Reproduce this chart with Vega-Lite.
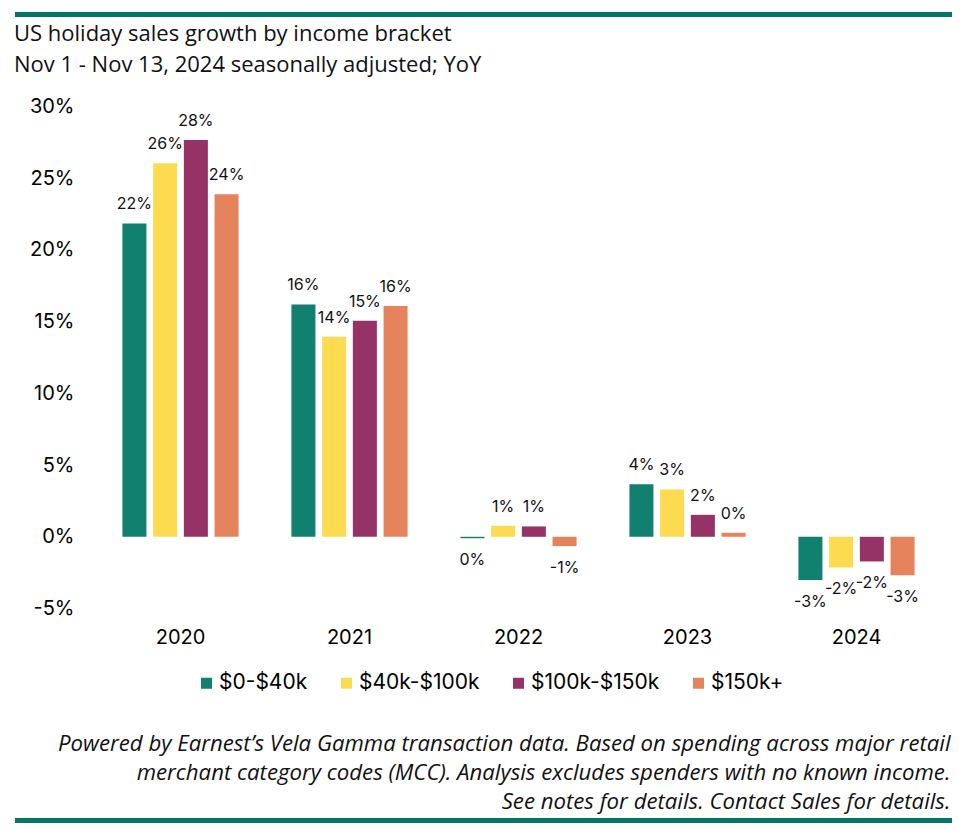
{
  "$schema": "https://vega.github.io/schema/vega-lite/v6.json",
  "width": 845,
  "height": 502,
  "autosize": {"type": "none"},
  "padding": {"left": 96, "top": 106.5, "right": 29, "bottom": 229.5},
  "background": "white",
  "config": {
    "view": {"stroke": null},
    "locale": {"number": {"decimal": ".", "thousands": ",", "grouping": [3], "currency": ["$", ""], "minus": "-"}}
  },
  "title": {
    "text": "US holiday sales growth by income bracket",
    "subtitle": "Nov 1 - Nov 13, 2024 seasonally adjusted; YoY",
    "anchor": "start",
    "frame": "group",
    "dx": -82,
    "font": "Open Sans",
    "fontSize": 22,
    "fontWeight": "normal",
    "color": "#111111",
    "subtitleFont": "Open Sans",
    "subtitleFontSize": 22,
    "subtitleColor": "#111111",
    "subtitlePadding": 9,
    "offset": -65
  },
  "data": {
    "values": [
      {"year": "2020", "bracket": "$0-$40k", "value": 0.2185},
      {"year": "2020", "bracket": "$40k-$100k", "value": 0.2604},
      {"year": "2020", "bracket": "$100k-$150k", "value": 0.2766},
      {"year": "2020", "bracket": "$150k+", "value": 0.2388},
      {"year": "2021", "bracket": "$0-$40k", "value": 0.162},
      {"year": "2021", "bracket": "$40k-$100k", "value": 0.1395},
      {"year": "2021", "bracket": "$100k-$150k", "value": 0.1506},
      {"year": "2021", "bracket": "$150k+", "value": 0.1609},
      {"year": "2022", "bracket": "$0-$40k", "value": -0.001},
      {"year": "2022", "bracket": "$40k-$100k", "value": 0.0077},
      {"year": "2022", "bracket": "$100k-$150k", "value": 0.0072},
      {"year": "2022", "bracket": "$150k+", "value": -0.0065},
      {"year": "2023", "bracket": "$0-$40k", "value": 0.0367},
      {"year": "2023", "bracket": "$40k-$100k", "value": 0.033},
      {"year": "2023", "bracket": "$100k-$150k", "value": 0.0153},
      {"year": "2023", "bracket": "$150k+", "value": 0.0028},
      {"year": "2024", "bracket": "$0-$40k", "value": -0.0302},
      {"year": "2024", "bracket": "$40k-$100k", "value": -0.0214},
      {"year": "2024", "bracket": "$100k-$150k", "value": -0.0172},
      {"year": "2024", "bracket": "$150k+", "value": -0.0269}
    ]
  },
  "encoding": {
    "x": {
      "field": "year",
      "type": "nominal",
      "scale": {"paddingInner": 0, "paddingOuter": 0},
      "axis": {
        "orient": "bottom",
        "domain": false,
        "ticks": false,
        "labelAngle": 0,
        "labelFont": "Inter",
        "labelFontSize": 20,
        "labelColor": "#000000",
        "labelPadding": 19,
        "title": [
          "Powered by Earnest’s Vela Gamma transaction data. Based on spending across major retail",
          "merchant category codes (MCC). Analysis excludes spenders with no known income.",
          "See notes for details. Contact Sales for details."
        ],
        "titleFont": "Open Sans",
        "titleFontStyle": "italic",
        "titleFontWeight": "normal",
        "titleFontSize": 22.2,
        "titleColor": "#111111",
        "titleLineHeight": 29,
        "titleAnchor": "end",
        "titleAlign": "right",
        "titleX": 854,
        "titlePadding": 85
      }
    },
    "xOffset": {
      "field": "bracket",
      "type": "nominal",
      "sort": ["$0-$40k", "$40k-$100k", "$100k-$150k", "$150k+"],
      "scale": {"paddingInner": 0.218, "paddingOuter": 0.86}
    },
    "y": {
      "field": "value",
      "type": "quantitative",
      "scale": {"domain": [-0.05, 0.3], "nice": false, "zero": false},
      "axis": {
        "format": ".0%",
        "values": [-0.05, 0, 0.05, 0.1, 0.15, 0.2, 0.25, 0.3],
        "domain": false,
        "ticks": false,
        "grid": false,
        "labelFont": "Inter",
        "labelFontSize": 20,
        "labelColor": "#000000",
        "labelPadding": 22,
        "title": null
      }
    }
  },
  "layer": [
    {
      "data": {"values": [{"z": 0}]},
      "mark": {"type": "rule", "color": "#d9d9d9", "strokeWidth": 2},
      "encoding": {"x": null, "xOffset": null, "y": {"datum": 0, "type": "quantitative"}}
    },
    {
      "mark": {"type": "bar"},
      "encoding": {
        "color": {
          "field": "bracket",
          "type": "nominal",
          "scale": {
            "domain": ["$0-$40k", "$40k-$100k", "$100k-$150k", "$150k+"],
            "range": ["#11806F", "#FDDB50", "#953266", "#E4835C"]
          },
          "legend": {
            "orient": "none",
            "legendX": 100,
            "legendY": 566,
            "direction": "horizontal",
            "title": null,
            "symbolType": "square",
            "symbolSize": 121,
            "symbolStrokeWidth": 0,
            "labelFont": "Inter",
            "labelFontSize": 21,
            "labelColor": "#000000",
            "labelOffset": 2,
            "columnPadding": 28
          }
        }
      }
    },
    {
      "transform": [{"filter": "datum.value >= 0"}],
      "mark": {"type": "text", "font": "Inter", "fontSize": 16, "color": "#111111", "baseline": "middle", "dy": -19},
      "encoding": {"text": {"field": "value", "type": "quantitative", "format": ".0%"}}
    },
    {
      "transform": [{"filter": "datum.value < 0"}],
      "mark": {"type": "text", "font": "Inter", "fontSize": 16, "color": "#111111", "baseline": "middle", "dy": 22},
      "encoding": {"text": {"field": "value", "type": "quantitative", "format": ".0%"}}
    },
    {
      "data": {"values": [{"z": 0}]},
      "mark": {"type": "rule", "color": "#037665", "strokeWidth": 5},
      "encoding": {"x": {"value": -81}, "x2": {"value": 856}, "xOffset": null, "y": {"value": -92}}
    },
    {
      "data": {"values": [{"z": 0}]},
      "mark": {"type": "rule", "color": "#037665", "strokeWidth": 5},
      "encoding": {"x": {"value": -81}, "x2": {"value": 856}, "xOffset": null, "y": {"value": 714}}
    }
  ]
}
